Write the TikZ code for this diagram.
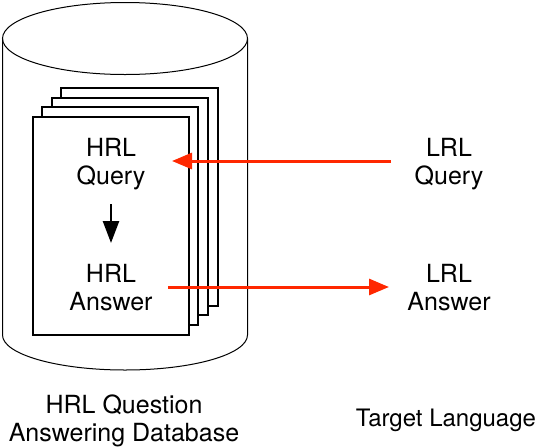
\documentclass[tikz,border=0pt]{standalone}
\usepackage{fontspec}
\setmainfont{TeX Gyre Heros}
\usetikzlibrary{arrows.meta}
\definecolor{arrred}{RGB}{255,40,0}
\tikzset{
  page/.style={draw=black, line width=1.5pt, fill=white},
  lbl/.style={align=center, inner sep=0pt, font=\fontsize{25}{28}\selectfont},
  redarrow/.style={draw=arrred, line width=3pt, -{Triangle[length=20pt,width=16pt]}},
  blackarrow/.style={draw=black, line width=2.5pt, -{Triangle[length=22pt,width=16pt]}},
}
\begin{document}
\begin{tikzpicture}[x=1pt,y=-1pt]
\useasboundingbox (0,0) rectangle (542,448);
% cylinder
\draw[line width=1pt] (2.5,38.5) -- (2.5,335) arc[start angle=180,end angle=0,x radius=122.5,y radius=35] -- (247.5,38.5);
\draw[line width=1pt] (125,38.5) ellipse[x radius=122.5,y radius=36];
% pages
\draw[page] (61,88) rectangle (218,306);
\draw[page] (52,98) rectangle (208,315);
\draw[page] (42,107) rectangle (198,325);
\draw[page] (33,117) rectangle (189,335);
% texts
\node[lbl] (hrlq) at (111,164) {HRL\\Query};
\node[lbl] (hrla) at (111,287.5) {HRL\\Answer};
\node[lbl] (lrlq) at (449,164) {LRL\\Query};
\node[lbl] (lrla) at (449,287.5) {LRL\\Answer};
\node[lbl] (db) at (124,421) {HRL Question\\Answering Database};
\node[lbl, font=\fontsize{24}{28}\selectfont] (tl) at (446,420) {Target Language};
% connectors
\coordinate (qs) at (391,161);
\coordinate (qe) at (172,161);
\coordinate (as) at (168,287);
\coordinate (ae) at (389,287);
\draw[redarrow] (qs) -- (qe);
\draw[redarrow] (as) -- (ae);
\draw[blackarrow] ([yshift=-14pt]hrlq.south) -- ([yshift=21pt]hrla.north);
\end{tikzpicture}
\end{document}
